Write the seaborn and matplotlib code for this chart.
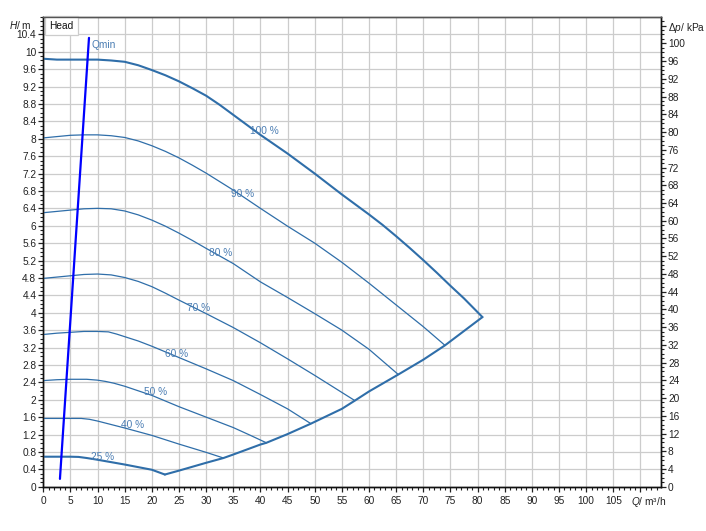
import numpy as np
import pandas as pd
import seaborn as sns
import matplotlib.pyplot as plt
from matplotlib.ticker import MultipleLocator, FixedLocator, FuncFormatter

# pump curves: flow Q in m3/h, head H in m
q_100 = [0, 2.5, 5, 7.5, 10, 12.5, 15, 17.5, 20, 22.5, 25, 27.5, 30, 32.5, 35, 37.5, 40,
         45, 50, 55, 60, 62.5, 65, 67.5, 70, 72.5, 75, 77.5, 80.9]
h_100 = [9.84, 9.82, 9.82, 9.82, 9.82, 9.80, 9.77, 9.69, 9.58, 9.46, 9.32, 9.16, 8.99, 8.78,
         8.55, 8.32, 8.09, 7.66, 7.20, 6.72, 6.26, 6.02, 5.76, 5.49, 5.21, 4.92, 4.62, 4.33, 3.90]

q_90 = [0, 2.5, 5, 7.5, 10, 12.5, 15, 17.5, 20, 22.5, 25, 27.5, 30, 35, 40, 45, 50, 55,
        60, 65, 70, 74.0]
h_90 = [8.02, 8.05, 8.08, 8.09, 8.09, 8.07, 8.03, 7.95, 7.84, 7.71, 7.56, 7.39, 7.21, 6.82,
        6.40, 5.99, 5.60, 5.16, 4.68, 4.18, 3.68, 3.25]

q_80 = [0, 2.5, 5, 7.5, 10, 12.5, 15, 17.5, 20, 22.5, 25, 27.5, 30, 35, 40, 45, 50, 55,
        60, 65.4]
h_80 = [6.30, 6.33, 6.36, 6.39, 6.40, 6.39, 6.34, 6.25, 6.13, 5.99, 5.83, 5.66, 5.48, 5.13,
        4.71, 4.35, 3.98, 3.60, 3.16, 2.58]

q_70 = [0, 2.5, 5, 7.5, 10, 12.5, 15, 17.5, 20, 22.5, 25, 30, 35, 40, 45, 50, 57.4]
h_70 = [4.79, 4.82, 4.85, 4.88, 4.89, 4.87, 4.81, 4.72, 4.60, 4.45, 4.29, 3.98, 3.66,
        3.31, 2.94, 2.56, 1.98]

q_60 = [0, 2.5, 5, 7.5, 10, 12, 13.5, 15, 17.5, 20, 25, 30, 35, 40, 45, 49.3]
h_60 = [3.50, 3.53, 3.55, 3.57, 3.57, 3.56, 3.51, 3.45, 3.35, 3.23, 2.97, 2.71, 2.44,
        2.12, 1.79, 1.45]

q_50 = [0, 2.5, 5, 8, 10, 11.5, 13, 15, 20, 25, 30, 35, 38, 41.1]
h_50 = [2.44, 2.46, 2.47, 2.47, 2.45, 2.42, 2.38, 2.31, 2.10, 1.84, 1.60, 1.36, 1.19, 1.01]

q_40 = [0, 5, 7, 8.5, 10, 12.5, 15, 20, 25, 30, 33.2]
h_40 = [1.57, 1.57, 1.57, 1.55, 1.51, 1.43, 1.35, 1.18, 0.98, 0.79, 0.66]

q_25 = [0, 5, 6.5, 8, 10, 15, 20, 22.4]
h_25 = [0.69, 0.69, 0.685, 0.66, 0.62, 0.51, 0.39, 0.28]

# lower end of the operating range
q_env = [22.4, 25, 30, 33.2, 35, 40, 41.1, 45, 49.3, 55, 57.4, 60, 65.4, 70, 74.0, 80.9]
h_env = [0.28, 0.37, 0.55, 0.66, 0.74, 0.97, 1.01, 1.21, 1.45, 1.79, 1.98, 2.19, 2.58, 2.92, 3.25, 3.90]

q_min = [3.07, 8.42]
h_min = [0.18, 10.32]

speed_labels = ['100 %', '90 %', '80 %', '70 %', '60 %', '50 %', '40 %', '25 %']
label_q = [40.7, 36.8, 32.7, 28.6, 24.6, 20.6, 16.5, 10.9]
label_h = [8.17, 6.73, 5.37, 4.12, 3.06, 2.17, 1.43, 0.69]

KPA_PER_M = 9.81

sns.set_style('ticks')
plt.rcParams['font.family'] = ['Liberation Sans', 'DejaVu Sans']
plt.rcParams['mathtext.fontset'] = 'custom'
plt.rcParams['mathtext.it'] = 'Liberation Sans:italic'
plt.rcParams['mathtext.rm'] = 'Liberation Sans'

curve_col = '#2f6ea9'
text_col = '#4a7db3'
fs = 7.3

fig = plt.figure(figsize=(7.06, 5.31), dpi=100)
ax = fig.add_axes([0.0613, 0.0834, 0.875, 0.8846])

thin = [(q_90, h_90), (q_80, h_80), (q_70, h_70), (q_60, h_60), (q_50, h_50), (q_40, h_40)]
for q, h in thin:
    sns.lineplot(x=q, y=h, ax=ax, color=curve_col, lw=0.9, estimator=None, zorder=3)
for q, h in [(q_100, h_100), (q_25, h_25), (q_env, h_env)]:
    sns.lineplot(x=q, y=h, ax=ax, color=curve_col, lw=1.5, estimator=None, zorder=3)
sns.lineplot(x=q_min, y=h_min, ax=ax, color='#0000ff', lw=1.6, estimator=None, zorder=4)

for lab, q, h in zip(speed_labels, label_q, label_h):
    ax.text(q, h, lab, fontsize=fs, color=text_col, ha='center', va='center', zorder=5)
ax.text(8.8, 10.15, 'Qmin', fontsize=fs, color=text_col, ha='left', va='center', zorder=5)

ax.set_xlim(0, 113.8)
ax.set_ylim(0, 10.8)

ax.xaxis.set_major_locator(FixedLocator(np.arange(0, 111, 5)))
ax.xaxis.set_minor_locator(MultipleLocator(1))
ax.xaxis.set_major_formatter(FuncFormatter(lambda v, p: '' if v > 107 else f'{v:g}'))
ax.yaxis.set_major_locator(FixedLocator(np.arange(0, 10.41, 0.4)))
ax.yaxis.set_minor_locator(MultipleLocator(0.1))
ax.yaxis.set_major_formatter(FuncFormatter(lambda v, p: f'{round(v, 1):g}'))

ax.grid(True, which='major', color='#cccccc', lw=0.9, zorder=0)
ax.set_axisbelow(True)
ax.tick_params(which='major', direction='out', length=3.5, width=0.9, labelsize=fs,
               colors='#222222', pad=1.5)
ax.tick_params(which='minor', direction='out', length=2.2, width=0.8, colors='#222222')
ax.tick_params(axis='x', which='major', pad=3)
ax.set_xlabel('')
ax.set_ylabel('')

ax2 = ax.twinx()
ax2.set_ylim(0, 10.8 * KPA_PER_M)
ax2.yaxis.set_major_locator(FixedLocator(np.arange(0, 105, 4)))
ax2.yaxis.set_minor_locator(MultipleLocator(1))
ax2.yaxis.set_major_formatter(FuncFormatter(
    lambda v, p: r'$\Delta\mathit{p}$/ kPa' if v > 102 else f'{v:g}'))
ax2.tick_params(which='major', direction='out', length=3.5, width=0.9, labelsize=fs,
                colors='#222222', pad=1.5)
ax2.tick_params(which='minor', direction='out', length=2.2, width=0.8, colors='#222222')

for a in (ax, ax2):
    for side in ['left', 'bottom', 'right']:
        a.spines[side].set_color('#111111')
        a.spines[side].set_linewidth(1.0)
    a.spines['top'].set_color('#555555')
    a.spines['top'].set_linewidth(1.0)

ax.text(-0.018, 10.61, r'$\mathit{H}$/ m', transform=ax.get_yaxis_transform(),
        fontsize=fs, ha='right', va='center', color='#222222')
ax.text(108.3, -0.032, r'$\mathit{Q}$/ m³/h', transform=ax.get_xaxis_transform(),
        fontsize=fs, ha='left', va='center', color='#222222')
ax.text(0.0095, 10.6, 'Head', transform=ax.get_yaxis_transform(), fontsize=fs,
        ha='left', va='center', color='#111111', zorder=6,
        bbox=dict(boxstyle='square,pad=0.42', fc='white', ec='#cccccc', lw=0.9))

fig.savefig('out.png', dpi=100)
